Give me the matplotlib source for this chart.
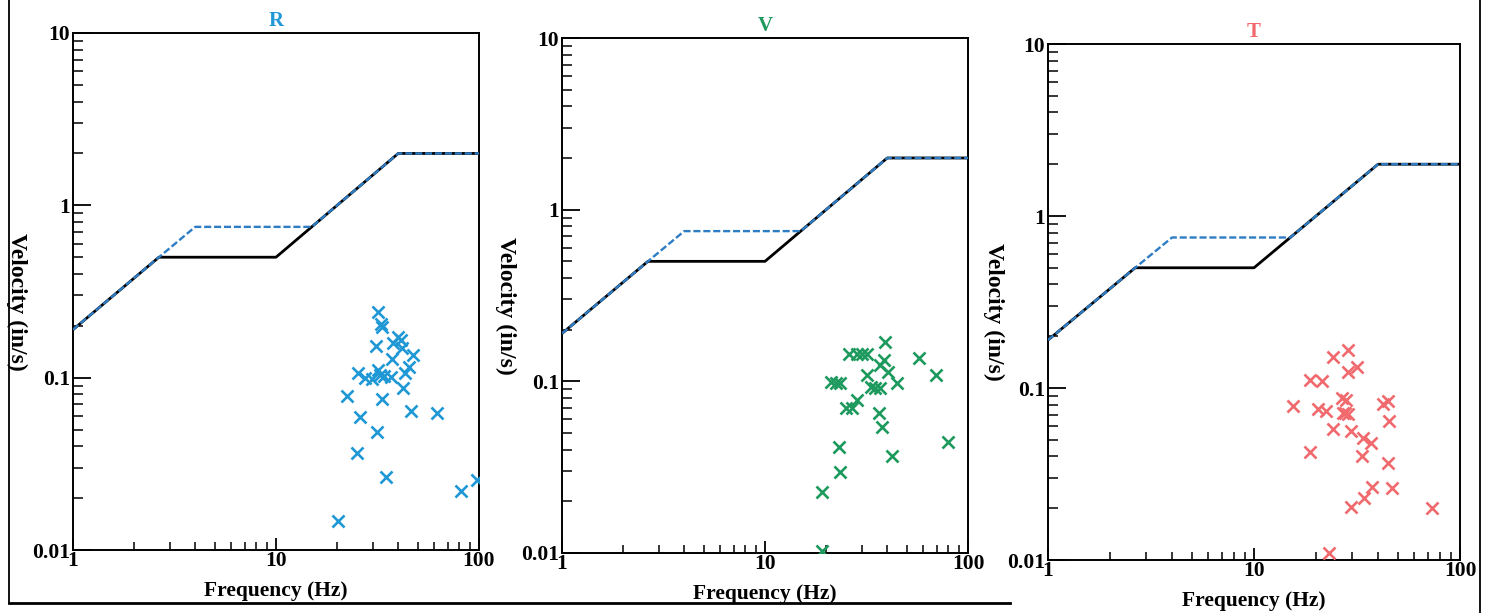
import matplotlib
matplotlib.use("Agg")
import matplotlib.pyplot as plt
from matplotlib.lines import Line2D
from matplotlib.ticker import LogLocator, NullFormatter

plt.rcParams['font.family'] = ['Liberation Serif', 'DejaVu Serif']
plt.rcParams['font.weight'] = 'bold'

# limit curves (USBM style)
curve_f = [1, 2.65, 10, 40, 100]
curve_v = [0.19, 0.5, 0.5, 2.0, 2.0]
alt_f = [1, 2.65, 4, 15, 40, 100]
alt_v = [0.19, 0.5, 0.75, 0.75, 2.0, 2.0]

# R component
r_freq = [31.9, 32.9, 33.2, 31.0, 40.0, 41.3, 37.8, 41.6, 47.1, 37.2, 45.4, 43.2,
          25.4, 27.4, 29.6, 31.9, 32.5, 34.2, 36.9, 42.1, 22.5, 33.4, 46.2, 61.9,
          25.9, 31.3, 25.0, 34.8, 81.3, 98.1, 20.3]
r_vel = [0.241, 0.204, 0.196, 0.152, 0.173, 0.165, 0.158, 0.148, 0.135, 0.129, 0.115, 0.107,
         0.107, 0.099, 0.098, 0.111, 0.104, 0.102, 0.101, 0.0874, 0.0782, 0.0748, 0.064, 0.062,
         0.0589, 0.0482, 0.0364, 0.0264, 0.022, 0.0255, 0.0148]

# V component
v_freq = [39.0, 26.0, 28.3, 29.9, 31.7, 57.5, 38.7, 36.9, 40.2, 31.7, 69.3, 21.1,
          22.3, 23.4, 44.5, 33.2, 34.8, 36.9, 28.5, 25.0, 26.7, 36.4, 37.8, 80.0,
          23.1, 42.1, 23.4, 19.0, 19.0]
v_vel = [0.170, 0.144, 0.144, 0.144, 0.144, 0.136, 0.133, 0.125, 0.114, 0.109, 0.109, 0.0996,
         0.0983, 0.0983, 0.0975, 0.0931, 0.0919, 0.0919, 0.078, 0.0697, 0.0697, 0.0652, 0.0545, 0.0446,
         0.0413, 0.0369, 0.0298, 0.0228, 0.0103]

# T component
t_freq = [28.5, 24.3, 31.5, 28.7, 18.7, 21.5, 26.7, 28.0, 42.2, 44.6, 15.5, 20.5,
          22.4, 27.1, 28.7, 27.6, 45.4, 24.3, 29.5, 33.7, 37.0, 18.8, 33.3, 44.6,
          37.3, 46.6, 34.2, 29.5, 72.9, 23.2]
t_vel = [0.166, 0.151, 0.133, 0.124, 0.112, 0.110, 0.0871, 0.0851, 0.0807, 0.0844, 0.0789, 0.0752,
         0.0735, 0.0718, 0.0706, 0.0712, 0.0646, 0.0575, 0.0562, 0.0510, 0.0481, 0.0426, 0.0404, 0.0365,
         0.0265, 0.0261, 0.0230, 0.0204, 0.0201, 0.0110]

titles = ["R", "V", "T"]
colors = ["#1f98d5", "#1e9a5e", "#f06a6e"]
freqs = [r_freq, v_freq, t_freq]
vels = [r_vel, v_vel, t_vel]

W, H = 1494, 613
# pixel boxes of the three panels: left, right, top, bottom
boxes = [(73, 479, 33, 550), (562, 968, 38, 553), (1048, 1460, 44, 560)]
ylab_x = [-0.138, -0.138, -0.132]

fig = plt.figure(figsize=(W / 100, H / 100), dpi=100)

for i in range(3):
    l, r, t, b = boxes[i]
    ax = fig.add_axes([l / W, 1 - b / H, (r - l) / W, (b - t) / H])
    ax.plot(curve_f, curve_v, color="black", lw=2.0, zorder=2)
    ax.plot(alt_f, alt_v, color="#2e7cc4", lw=1.7, ls=(0, (3, 1.2)), zorder=3)
    ax.scatter(freqs[i], vels[i], marker="x", s=75, linewidths=1.9, color=colors[i], zorder=4)

    ax.set_xscale("log")
    ax.set_yscale("log")
    ax.set_xlim(1, 100)
    ax.set_ylim(0.01, 10)

    ax.set_xticks([1, 10, 100], ["1", "10", "100"])
    ax.set_yticks([0.01, 0.1, 1, 10], ["0.01", "0.1", "1", "10"])
    ax.xaxis.set_minor_locator(LogLocator(base=10, subs=range(2, 10)))
    ax.yaxis.set_minor_locator(LogLocator(base=10, subs=range(2, 10)))
    ax.xaxis.set_minor_formatter(NullFormatter())
    ax.yaxis.set_minor_formatter(NullFormatter())

    ax.tick_params(axis="y", which="major", direction="in", length=13, width=1.3,
                   labelsize=15.5, pad=2, right=False)
    ax.tick_params(axis="y", which="minor", direction="in", length=7, width=1.1, right=False)
    ax.tick_params(axis="x", which="major", direction="in", length=9, width=1.3,
                   labelsize=15.5, pad=1, top=False)
    ax.tick_params(axis="x", which="minor", direction="in", length=6, width=1.1, top=False)
    for lab in ax.get_xticklabels() + ax.get_yticklabels():
        lab.set_fontweight("bold")

    for sp in ax.spines.values():
        sp.set_linewidth(1.4)

    ax.set_title(titles[i], color=colors[i], fontsize=15, fontweight="bold", pad=5)
    ax.set_xlabel("Frequency (Hz)", fontsize=15.5, fontweight="bold", labelpad=7)
    ax.set_ylabel("Velocity (in/s)", fontsize=17, fontweight="bold", rotation=-90,
                  va="center", ha="center")
    ax.yaxis.set_label_coords(ylab_x[i], 0.48)

# scan frame lines
fig.add_artist(Line2D([9 / W, 9 / W], [1, 1 - 603 / H], color="black", lw=1.3))
fig.add_artist(Line2D([9 / W, 1010 / W], [1 - 603 / H, 1 - 603 / H], color="black", lw=2))
fig.add_artist(Line2D([1480 / W, 1480 / W], [0, 1], color="black", lw=1.3))

fig.savefig("out.png", dpi=100)
